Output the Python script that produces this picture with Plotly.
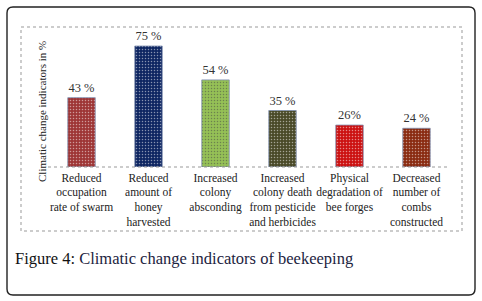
import plotly.graph_objects as go

categories = [
    "Reduced<br>occupation<br>rate of swarm",
    "Reduced<br>amount of<br>honey<br>harvested",
    "Increased<br>colony<br>absconding",
    "Increased<br>colony death<br>from pesticide<br>and herbicides",
    "Physical<br>degradation of<br>bee forges",
    "Decreased<br>number of<br>combs<br>constructed",
]
values = [43, 75, 54, 35, 26, 24]
value_labels = ["43 %", "75 %", "54 %", "35 %", "26%", "24 %"]
bar_colors = ["#9e3636", "#0e2662", "#95c056", "#4a4a28", "#cc1212", "#8a2c12"]
dot_colors = ["#b86a6a", "#2c4682", "#b4d680", "#66663e", "#e04848", "#a85030"]

W, H = 482, 301
L, R, T, B = 48, 450, 27, 167  # plot area in px
YMAX = (B - T) / ((B - 46) / 75)
SERIF = "Liberation Serif, Times New Roman, Times, serif"

def px(x):
    return (x - L) / (R - L)

def py(y):
    return (B - y) / (B - T)

fig = go.Figure()
fig.add_trace(go.Bar(
    x=list(range(len(values))),
    y=values,
    width=0.41,
    marker=dict(
        color=bar_colors,
        line=dict(color="#8090b0", width=0.8),
        pattern=dict(shape=".", fgcolor=dot_colors, size=3, solidity=0.2, fillmode="overlay"),
    ),
    text=value_labels,
    textposition="outside",
    cliponaxis=False,
    textfont=dict(family=SERIF, size=12.5, color="#333333"),
    hoverinfo="skip",
))

# outer rounded frame
x0, y0, x1, y1, r = px(7), py(7), px(475), py(295), 6
rx = r / (R - L)
ry = r / (B - T)
path = (f"M {x0+rx},{y0} L {x1-rx},{y0} Q {x1},{y0} {x1},{y0-ry} "
        f"L {x1},{y1+ry} Q {x1},{y1} {x1-rx},{y1} "
        f"L {x0+rx},{y1} Q {x0},{y1} {x0},{y1+ry} "
        f"L {x0},{y0-ry} Q {x0},{y0} {x0+rx},{y0} Z")
shapes = [
    dict(type="path", xref="paper", yref="paper", path=path,
         line=dict(color="#222222", width=1.4)),
    dict(type="rect", xref="paper", yref="paper", x0=px(21), x1=px(462), y0=py(27), y1=py(231),
         line=dict(color="#999999", width=1, dash="dot")),
    dict(type="line", xref="paper", yref="paper", x0=0, x1=1, y0=0, y1=0,
         line=dict(color="#999999", width=1, dash="dot")),
]

annotations = [
    dict(text="Climatic change indicators in %", xref="paper", yref="paper",
         x=px(42), y=py(112), textangle=-90, showarrow=False,
         font=dict(family=SERIF, size=11, color="#222222"),
         xanchor="center", yanchor="middle"),
    dict(text="Figure 4: <span style='color:#1c2340'>Climatic change indicators of beekeeping</span>",
         xref="paper", yref="paper", x=px(13), y=py(258), showarrow=False,
         xanchor="left", yanchor="middle",
         font=dict(family=SERIF, size=16.5, color="#111111")),
]

fig.update_layout(
    width=W, height=H,
    margin=dict(l=L, r=W - R, t=T, b=H - B),
    paper_bgcolor="white", plot_bgcolor="white",
    showlegend=False,
    shapes=shapes,
    annotations=annotations,
    xaxis=dict(
        tickmode="array", tickvals=list(range(len(values))), ticktext=categories,
        range=[-0.5, len(values) - 0.5],
        showgrid=False, zeroline=False, showline=False, ticks="",
        tickfont=dict(family=SERIF, size=11.5, color="#222222"),
        ticklabelstandoff=2,
        tickangle=0, fixedrange=True,
    ),
    yaxis=dict(range=[0, YMAX], visible=False, fixedrange=True),
)

fig.write_html(
    "out.html",
    config={"displayModeBar": False},
    post_script="document.body.style.margin='0';document.body.style.overflow='hidden';",
)
